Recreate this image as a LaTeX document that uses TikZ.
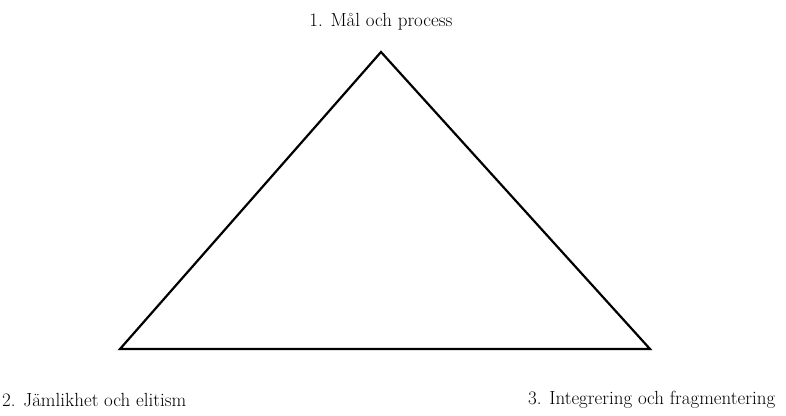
\documentclass[tikz,border=0pt]{standalone}
\begin{document}
\begin{tikzpicture}[x=1pt, y=-1pt, lbl/.style={inner sep=0pt, font=\fontsize{19}{22}\selectfont}]
\useasboundingbox[fill=white] (0,0) rectangle (786,415);
\coordinate (top) at (381,52);
\coordinate (left) at (120,349);
\coordinate (right) at (650,349);
\draw[line width=2.2pt, line join=miter] (top) -- (left) -- (right) -- cycle;
\node[lbl] (goal) at (381,22) {1. Mål och process};
\node[lbl, anchor=west] (equal) at (2,400) {2. Jämlikhet och elitism};
\node[lbl, anchor=west] (integ) at (528,400) {3. Integrering och fragmentering};
\end{tikzpicture}
\end{document}
